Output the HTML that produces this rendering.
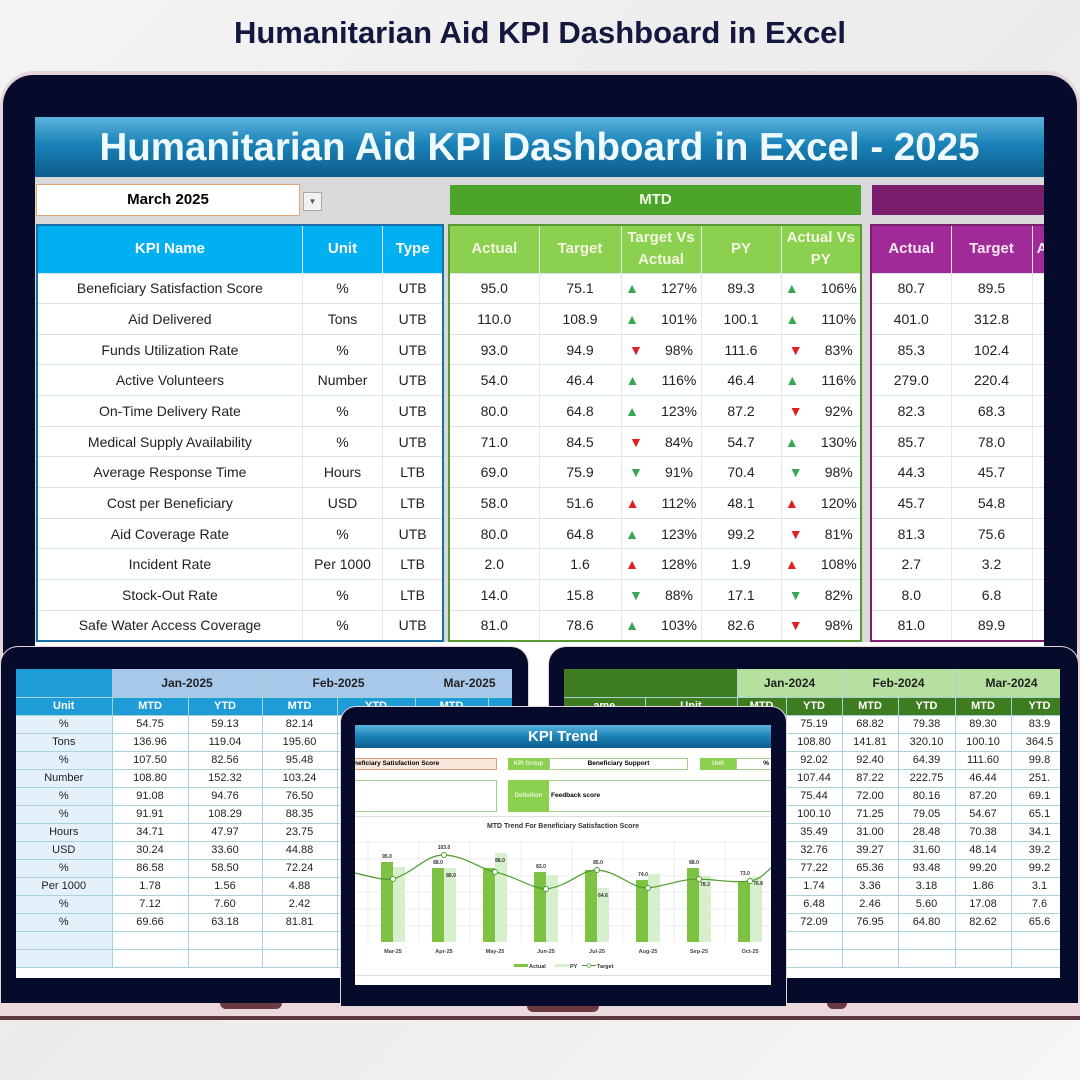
<!DOCTYPE html>
<html><head><meta charset="utf-8"><style>
*{margin:0;padding:0;box-sizing:border-box}
body{width:1080px;height:1080px;overflow:hidden;position:relative;background:linear-gradient(135deg,#f4f4f4,#ebebeb 50%,#f6f6f6);font-family:"Liberation Sans",sans-serif}
.a{position:absolute}
table{border-collapse:collapse;table-layout:fixed}
td{text-align:center;white-space:nowrap;overflow:hidden}
.m td{height:30.67px;font-size:14px;color:#222;border-bottom:1px solid #d8e4ea;border-right:1px solid #e2e8ec;background:#fff}
.m tr.h td{height:48px;font-weight:bold;font-size:15px;color:#f4f8e0;line-height:22px}
.up{color:#3aa655}.dn{color:#e02020}
.tri{display:inline-block;width:36px;text-align:left;font-size:14px}
.s td{font-size:11px;color:#222;height:18px;border-bottom:1px solid #a9d1d8;border-right:1px solid #a9d1d8}
</style></head><body>
<div class="a" style="left:0;top:15px;width:1080px;text-align:center;font-size:31px;font-weight:bold;color:#14183e">Humanitarian Aid KPI Dashboard in Excel</div>

<!-- main laptop -->
<div class="a" style="left:0;top:71px;width:1080px;height:940px;border-radius:34px 34px 0 0;background:#e6d6dc"></div>
<div class="a" style="left:3px;top:75px;width:1074px;height:936px;border-radius:30px 30px 0 0;background:#070b2b"></div>
<div class="a" style="left:35px;top:117px;width:1009px;height:880px;background:#d9d9d9;overflow:hidden">
 <div class="a" style="left:0;top:0;width:1009px;height:60px;background:linear-gradient(#5bb3dc,#1a82b8 45%,#0e5c8c);color:#eefaff;font-size:38.5px;font-weight:bold;text-align:center;line-height:62px">Humanitarian Aid KPI Dashboard in Excel - 2025</div>
 <div class="a" style="left:1px;top:67px;width:264px;height:32px;background:#fff;border:1px solid #e0a878;font-weight:bold;font-size:15px;text-align:center;line-height:30px">March 2025</div>
 <div class="a" style="left:268px;top:75px;width:19px;height:19px;background:#f2f2f2;border:1px solid #aaa;font-size:8px;text-align:center;line-height:17px;color:#555">▼</div>
 <div class="a" style="left:415px;top:68px;width:411px;height:30px;background:#4ca428;color:#f2fbe6;font-weight:bold;font-size:15px;text-align:center;line-height:30px">MTD</div>
 <div class="a" style="left:837px;top:68px;width:200px;height:30px;background:#7a1f6e"></div>
 <div class="a" style="left:0;top:525px;width:1009px;height:360px;background:#fff"></div>
 <table class="a m" style="left:1px;top:107px;width:408px;border:2px solid #1a6fa8">
 <colgroup><col style="width:264px"><col style="width:80px"><col style="width:60px"></colgroup>
 <tr class="h"><td style="background:#00b0f0;color:#fff">KPI Name</td><td style="background:#00b0f0;color:#fff">Unit</td><td style="background:#00b0f0;color:#fff">Type</td></tr>
 <tr><td>Beneficiary Satisfaction Score</td><td>%</td><td>UTB</td></tr>
 <tr><td>Aid Delivered</td><td>Tons</td><td>UTB</td></tr>
 <tr><td>Funds Utilization Rate</td><td>%</td><td>UTB</td></tr>
 <tr><td>Active Volunteers</td><td>Number</td><td>UTB</td></tr>
 <tr><td>On-Time Delivery Rate</td><td>%</td><td>UTB</td></tr>
 <tr><td>Medical Supply Availability</td><td>%</td><td>UTB</td></tr>
 <tr><td>Average Response Time</td><td>Hours</td><td>LTB</td></tr>
 <tr><td>Cost per Beneficiary</td><td>USD</td><td>LTB</td></tr>
 <tr><td>Aid Coverage Rate</td><td>%</td><td>UTB</td></tr>
 <tr><td>Incident Rate</td><td>Per 1000</td><td>LTB</td></tr>
 <tr><td>Stock-Out Rate</td><td>%</td><td>LTB</td></tr>
 <tr><td>Safe Water Access Coverage</td><td>%</td><td>UTB</td></tr>
 </table>
 <table class="a m" style="left:413px;top:107px;width:414px;border:2px solid #5a9a32">
 <colgroup><col style="width:90px"><col style="width:82px"><col style="width:80px"><col style="width:80px"><col style="width:80px"></colgroup>
 <tr class="h"><td style="background:#8cd04f">Actual</td><td style="background:#8cd04f">Target</td><td style="background:#8cd04f">Target Vs<br>Actual</td><td style="background:#8cd04f">PY</td><td style="background:#8cd04f">Actual Vs<br>PY</td></tr>
 <tr><td>95.0</td><td>75.1</td><td><span class="tri up">▲</span>127%</td><td>89.3</td><td><span class="tri up">▲</span>106%</td></tr>
 <tr><td>110.0</td><td>108.9</td><td><span class="tri up">▲</span>101%</td><td>100.1</td><td><span class="tri up">▲</span>110%</td></tr>
 <tr><td>93.0</td><td>94.9</td><td><span class="tri dn">▼</span>98%</td><td>111.6</td><td><span class="tri dn">▼</span>83%</td></tr>
 <tr><td>54.0</td><td>46.4</td><td><span class="tri up">▲</span>116%</td><td>46.4</td><td><span class="tri up">▲</span>116%</td></tr>
 <tr><td>80.0</td><td>64.8</td><td><span class="tri up">▲</span>123%</td><td>87.2</td><td><span class="tri dn">▼</span>92%</td></tr>
 <tr><td>71.0</td><td>84.5</td><td><span class="tri dn">▼</span>84%</td><td>54.7</td><td><span class="tri up">▲</span>130%</td></tr>
 <tr><td>69.0</td><td>75.9</td><td><span class="tri up">▼</span>91%</td><td>70.4</td><td><span class="tri up">▼</span>98%</td></tr>
 <tr><td>58.0</td><td>51.6</td><td><span class="tri dn">▲</span>112%</td><td>48.1</td><td><span class="tri dn">▲</span>120%</td></tr>
 <tr><td>80.0</td><td>64.8</td><td><span class="tri up">▲</span>123%</td><td>99.2</td><td><span class="tri dn">▼</span>81%</td></tr>
 <tr><td>2.0</td><td>1.6</td><td><span class="tri dn">▲</span>128%</td><td>1.9</td><td><span class="tri dn">▲</span>108%</td></tr>
 <tr><td>14.0</td><td>15.8</td><td><span class="tri up">▼</span>88%</td><td>17.1</td><td><span class="tri up">▼</span>82%</td></tr>
 <tr><td>81.0</td><td>78.6</td><td><span class="tri up">▲</span>103%</td><td>82.6</td><td><span class="tri dn">▼</span>98%</td></tr>
 </table>
 <table class="a m" style="left:835px;top:107px;width:245px;border:2px solid #7a1f6e">
 <colgroup><col style="width:80px"><col style="width:81px"><col style="width:84px"></colgroup>
 <tr class="h"><td style="background:#a12a99;color:#f8e6f4">Actual</td><td style="background:#a12a99;color:#f8e6f4">Target</td><td style="background:#a12a99;color:#f8e6f4;text-align:left">&nbsp;A</td></tr>
 <tr><td>80.7</td><td>89.5</td><td></td></tr><tr><td>401.0</td><td>312.8</td><td></td></tr><tr><td>85.3</td><td>102.4</td><td></td></tr><tr><td>279.0</td><td>220.4</td><td></td></tr><tr><td>82.3</td><td>68.3</td><td></td></tr><tr><td>85.7</td><td>78.0</td><td></td></tr><tr><td>44.3</td><td>45.7</td><td></td></tr><tr><td>45.7</td><td>54.8</td><td></td></tr><tr><td>81.3</td><td>75.6</td><td></td></tr><tr><td>2.7</td><td>3.2</td><td></td></tr><tr><td>8.0</td><td>6.8</td><td></td></tr><tr><td>81.0</td><td>89.9</td><td></td></tr>
 </table>
</div>

<!-- base -->
<div class="a" style="left:0;top:1000px;width:1080px;height:18px;background:#ead8dc"></div>
<div class="a" style="left:0;top:1016px;width:1080px;height:4px;background:#5e3a40"></div>
<div class="a" style="left:220px;top:1000px;width:62px;height:9px;background:#6b3a40;border-radius:0 0 6px 6px"></div>
<div class="a" style="left:527px;top:1000px;width:72px;height:12px;background:#6b3a40;border-radius:0 0 6px 6px"></div>
<div class="a" style="left:827px;top:1000px;width:20px;height:9px;background:#6b3a40;border-radius:0 0 6px 6px"></div>

<!-- left tablet -->
<div class="a" style="left:0;top:646px;width:529px;height:357px;background:#070b2b;border-radius:18px 18px 0 0;border:1px solid #e6d6dc;border-bottom:none"></div>
<div class="a" style="left:16px;top:669px;width:496px;height:309px;background:#fff;overflow:hidden">
 <table class="a s" style="left:0;top:0;width:532px">
 <colgroup><col style="width:96px"><col style="width:76px"><col style="width:74px"><col style="width:75px"><col style="width:78px"><col style="width:73px"><col style="width:60px"></colgroup>
 <tr><td style="height:28px;background:#1e9cd7"></td><td colspan="2" style="background:#a8c8ea;font-weight:bold;font-size:12px">Jan-2025</td><td colspan="2" style="background:#a8c8ea;font-weight:bold;font-size:12px">Feb-2025</td><td colspan="2" style="background:#a8c8ea;font-weight:bold;font-size:12px;text-align:left;padding-left:28px">Mar-2025</td></tr>
 <tr><td style="background:#1e9cd7;color:#fff;font-weight:bold">Unit</td><td style="background:#1e9cd7;color:#fff;font-weight:bold">MTD</td><td style="background:#1e9cd7;color:#fff;font-weight:bold">YTD</td><td style="background:#1e9cd7;color:#fff;font-weight:bold">MTD</td><td style="background:#1e9cd7;color:#fff;font-weight:bold">YTD</td><td style="background:#1e9cd7;color:#fff;font-weight:bold">MTD</td><td style="background:#1e9cd7"></td></tr>
 <tr><td style="background:#e4f1fa">%</td><td>54.75</td><td>59.13</td><td>82.14</td><td></td><td></td><td></td></tr>
 <tr><td style="background:#e4f1fa">Tons</td><td>136.96</td><td>119.04</td><td>195.60</td><td></td><td></td><td></td></tr>
 <tr><td style="background:#e4f1fa">%</td><td>107.50</td><td>82.56</td><td>95.48</td><td></td><td></td><td></td></tr>
 <tr><td style="background:#e4f1fa">Number</td><td>108.80</td><td>152.32</td><td>103.24</td><td></td><td></td><td></td></tr>
 <tr><td style="background:#e4f1fa">%</td><td>91.08</td><td>94.76</td><td>76.50</td><td></td><td></td><td></td></tr>
 <tr><td style="background:#e4f1fa">%</td><td>91.91</td><td>108.29</td><td>88.35</td><td></td><td></td><td></td></tr>
 <tr><td style="background:#e4f1fa">Hours</td><td>34.71</td><td>47.97</td><td>23.75</td><td></td><td></td><td></td></tr>
 <tr><td style="background:#e4f1fa">USD</td><td>30.24</td><td>33.60</td><td>44.88</td><td></td><td></td><td></td></tr>
 <tr><td style="background:#e4f1fa">%</td><td>86.58</td><td>58.50</td><td>72.24</td><td></td><td></td><td></td></tr>
 <tr><td style="background:#e4f1fa">Per 1000</td><td>1.78</td><td>1.56</td><td>4.88</td><td></td><td></td><td></td></tr>
 <tr><td style="background:#e4f1fa">%</td><td>7.12</td><td>7.60</td><td>2.42</td><td></td><td></td><td></td></tr>
 <tr><td style="background:#e4f1fa">%</td><td>69.66</td><td>63.18</td><td>81.81</td><td></td><td></td><td></td></tr>
 <tr><td style="background:#e4f1fa"></td><td></td><td></td><td></td><td></td><td></td><td></td></tr>
 <tr><td style="background:#e4f1fa"></td><td></td><td></td><td></td><td></td><td></td><td></td></tr>
 </table>
</div>

<!-- right laptop -->
<div class="a" style="left:548px;top:646px;width:531px;height:357px;background:#070b2b;border-radius:18px 18px 0 0;border:1px solid #e6d6dc;border-bottom:none"></div>
<div class="a" style="left:564px;top:669px;width:496px;height:309px;background:#fff;overflow:hidden">
 <table class="a s" style="left:0;top:0;width:504px">
 <colgroup><col style="width:81px"><col style="width:92px"><col style="width:49px"><col style="width:56px"><col style="width:56px"><col style="width:57px"><col style="width:56px"><col style="width:57px"></colgroup>
 <tr><td colspan="2" style="height:28px;background:#3e7d1f"></td><td colspan="2" style="background:#b6e0a0;font-weight:bold;font-size:12px">Jan-2024</td><td colspan="2" style="background:#b6e0a0;font-weight:bold;font-size:12px">Feb-2024</td><td colspan="2" style="background:#b6e0a0;font-weight:bold;font-size:12px">Mar-2024</td></tr>
 <tr><td style="background:#3e7d1f;color:#fff;font-weight:bold">ame</td><td style="background:#3e7d1f;color:#fff;font-weight:bold">Unit</td><td style="background:#3e7d1f;color:#fff;font-weight:bold">MTD</td><td style="background:#3e7d1f;color:#fff;font-weight:bold">YTD</td><td style="background:#3e7d1f;color:#fff;font-weight:bold">MTD</td><td style="background:#3e7d1f;color:#fff;font-weight:bold">YTD</td><td style="background:#3e7d1f;color:#fff;font-weight:bold">MTD</td><td style="background:#3e7d1f;color:#fff;font-weight:bold">YTD</td></tr>
 <tr><td></td><td></td><td></td><td>75.19</td><td>68.82</td><td>79.38</td><td>89.30</td><td>83.9</td></tr>
 <tr><td></td><td></td><td></td><td>108.80</td><td>141.81</td><td>320.10</td><td>100.10</td><td>364.5</td></tr>
 <tr><td></td><td></td><td></td><td>92.02</td><td>92.40</td><td>64.39</td><td>111.60</td><td>99.8</td></tr>
 <tr><td></td><td></td><td></td><td>107.44</td><td>87.22</td><td>222.75</td><td>46.44</td><td>251.</td></tr>
 <tr><td></td><td></td><td></td><td>75.44</td><td>72.00</td><td>80.16</td><td>87.20</td><td>69.1</td></tr>
 <tr><td></td><td></td><td></td><td>100.10</td><td>71.25</td><td>79.05</td><td>54.67</td><td>65.1</td></tr>
 <tr><td></td><td></td><td></td><td>35.49</td><td>31.00</td><td>28.48</td><td>70.38</td><td>34.1</td></tr>
 <tr><td></td><td></td><td></td><td>32.76</td><td>39.27</td><td>31.60</td><td>48.14</td><td>39.2</td></tr>
 <tr><td></td><td></td><td></td><td>77.22</td><td>65.36</td><td>93.48</td><td>99.20</td><td>99.2</td></tr>
 <tr><td></td><td></td><td></td><td>1.74</td><td>3.36</td><td>3.18</td><td>1.86</td><td>3.1</td></tr>
 <tr><td></td><td></td><td></td><td>6.48</td><td>2.46</td><td>5.60</td><td>17.08</td><td>7.6</td></tr>
 <tr><td></td><td></td><td></td><td>72.09</td><td>76.95</td><td>64.80</td><td>82.62</td><td>65.6</td></tr>
 <tr><td></td><td></td><td></td><td></td><td></td><td></td><td></td><td></td></tr>
 <tr><td></td><td></td><td></td><td></td><td></td><td></td><td></td><td></td></tr>
 </table>
</div>

<!-- middle tablet -->
<div class="a" style="left:340px;top:706px;width:447px;height:300px;background:#070b2b;border-radius:16px 16px 0 0;border:1px solid #e6d6dc;border-bottom:none"></div>
<div class="a" style="left:355px;top:725px;width:416px;height:260px;background:#fff;overflow:hidden">
 <div class="a" style="left:0;top:0;width:416px;height:23px;background:linear-gradient(#5bb3dc,#1a82b8 50%,#0e5c8c);color:#fff;font-weight:bold;font-size:15px;text-align:center;line-height:24px">KPI Trend</div>
 <div class="a" style="left:-2px;top:33px;width:144px;height:12px;background:#fbe6dc;border:1px solid #e0a080;font-size:6.5px;font-weight:bold;line-height:10px">neficiary Satisfaction Score</div>
 <div class="a" style="left:153px;top:33px;width:41px;height:12px;background:#8cd04f;color:#eaf6dc;font-size:6px;font-weight:bold;line-height:12px;text-align:center">KPI Group</div>
 <div class="a" style="left:194px;top:33px;width:139px;height:12px;border:1px solid #a8d08c;font-size:6.5px;font-weight:bold;line-height:10px;text-align:center">Beneficiary Support</div>
 <div class="a" style="left:345px;top:33px;width:36px;height:12px;background:#8cd04f;color:#eaf6dc;font-size:6px;font-weight:bold;line-height:12px;text-align:center">Unit</div>
 <div class="a" style="left:381px;top:33px;width:40px;height:12px;border:1px solid #a8d08c;font-size:6.5px;font-weight:bold;line-height:10px;text-align:right;padding-right:6px">%</div>
 <div class="a" style="left:-2px;top:55px;width:144px;height:32px;border:1px solid #a8d08c"></div>
 <div class="a" style="left:153px;top:55px;width:41px;height:32px;background:#8cd04f;color:#eaf6dc;font-size:6px;font-weight:bold;line-height:32px;text-align:center">Definition</div>
 <div class="a" style="left:194px;top:55px;width:230px;height:32px;border-top:1px solid #a8d08c;border-bottom:1px solid #a8d08c;font-size:6.5px;font-weight:bold;line-height:30px;padding-left:2px">Feedback score</div>
 <div class="a" style="left:0;top:91px;width:416px;height:1px;background:#d8e4d0"></div>
 <div class="a" style="left:0;top:98px;width:416px;text-align:center;font-size:7px;font-weight:bold;color:#333">MTD Trend For Beneficiary Satisfaction Score</div>
 <div class="a" style="left:0;top:250px;width:416px;height:1px;background:#d8e4d0"></div>
</div>
<svg class="a" style="left:355px;top:815px" width="416" height="170" viewBox="355 815 416 170" font-family="Liberation Sans, sans-serif">
 <g stroke="#e6e6e6" stroke-width="0.7">
  <line x1="355" y1="842" x2="771" y2="842"/><line x1="355" y1="859" x2="771" y2="859"/><line x1="355" y1="876" x2="771" y2="876"/><line x1="355" y1="892" x2="771" y2="892"/><line x1="355" y1="909" x2="771" y2="909"/><line x1="355" y1="926" x2="771" y2="926"/>
  <line x1="368" y1="842" x2="368" y2="942"/><line x1="419" y1="842" x2="419" y2="942"/><line x1="470" y1="842" x2="470" y2="942"/><line x1="521" y1="842" x2="521" y2="942"/><line x1="572" y1="842" x2="572" y2="942"/><line x1="623" y1="842" x2="623" y2="942"/><line x1="674" y1="842" x2="674" y2="942"/><line x1="725" y1="842" x2="725" y2="942"/>
 </g>
 <g fill="#7dc242">
  <rect x="381" y="862" width="12" height="80"/><rect x="432" y="868" width="12" height="74"/><rect x="483" y="868" width="12" height="74"/><rect x="534" y="872" width="12" height="70"/><rect x="585" y="870" width="12" height="72"/><rect x="636" y="880" width="12" height="62"/><rect x="687" y="868" width="12" height="74"/><rect x="738" y="881" width="12" height="61"/>
 </g>
 <g fill="#d6efcc">
  <rect x="393" y="867" width="12" height="75"/><rect x="444" y="868" width="12" height="74"/><rect x="495" y="853" width="12" height="89"/><rect x="546" y="875" width="12" height="67"/><rect x="597" y="888" width="12" height="54"/><rect x="648" y="874" width="12" height="68"/><rect x="699" y="876" width="12" height="66"/><rect x="750" y="877" width="12" height="65"/>
 </g>
 <path d="M355 873 C375 878,383 880,393 879 C415 872,425 855,444 855 C465 856,478 868,495 872 C515 876,530 888,546 889 C570 886,580 870,597 870 C620 872,630 888,648 888 C670 885,680 879,699 879 C720 880,735 883,750 881 C760 880,766 872,771 868" fill="none" stroke="#4e9a2e" stroke-width="1.2"/>
 <g fill="#fff" stroke="#4e9a2e" stroke-width="0.9">
  <circle cx="393" cy="879" r="2.5"/><circle cx="444" cy="855" r="2.5"/><circle cx="495" cy="872" r="2.5"/><circle cx="546" cy="889" r="2.5"/><circle cx="597" cy="870" r="2.5"/><circle cx="648" cy="888" r="2.5"/><circle cx="699" cy="879" r="2.5"/><circle cx="750" cy="881" r="2.5"/>
 </g>
 <g font-size="5" font-weight="bold" fill="#333" text-anchor="middle">
  <text x="387" y="858">95.0</text><text x="444" y="849">103.0</text><text x="438" y="864">88.0</text><text x="451" y="877">88.0</text><text x="500" y="862">88.0</text><text x="541" y="868">83.0</text><text x="598" y="864">85.0</text><text x="603" y="897">64.6</text><text x="643" y="876">74.0</text><text x="694" y="864">88.0</text><text x="705" y="886">78.3</text><text x="745" y="875">73.0</text><text x="758" y="885">76.8</text>
 </g>
 <g font-size="5.5" font-weight="bold" fill="#444" text-anchor="middle">
  <text x="393" y="953">Mar-25</text><text x="444" y="953">Apr-25</text><text x="495" y="953">May-25</text><text x="546" y="953">Jun-25</text><text x="597" y="953">Jul-25</text><text x="648" y="953">Aug-25</text><text x="699" y="953">Sep-25</text><text x="750" y="953">Oct-25</text>
 </g>
 <rect x="514" y="964" width="14" height="3" fill="#7dc242"/><text x="529" y="968" font-size="5.5" font-weight="bold" fill="#333">Actual</text>
 <rect x="555" y="964" width="14" height="3" fill="#d6efcc"/><text x="570" y="968" font-size="5.5" font-weight="bold" fill="#333">PY</text>
 <line x1="582" y1="965.5" x2="596" y2="965.5" stroke="#4e9a2e"/><circle cx="589" cy="965.5" r="1.8" fill="#fff" stroke="#4e9a2e" stroke-width="0.7"/><text x="597" y="968" font-size="5.5" font-weight="bold" fill="#333">Target</text>
</svg>
</body></html>
